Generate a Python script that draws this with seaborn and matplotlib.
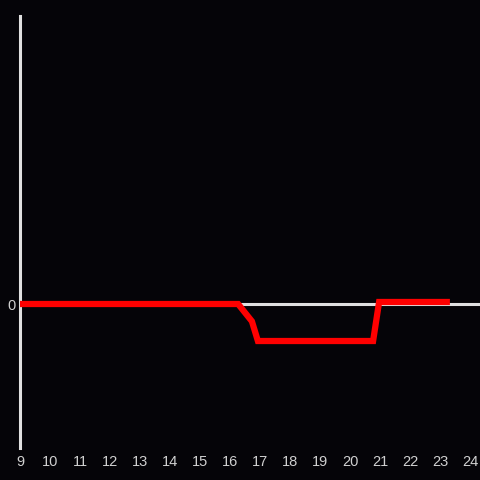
import matplotlib
matplotlib.use("Agg")
import matplotlib.pyplot as plt
import seaborn as sns
import pandas as pd

x_vals = [9.0, 16.27, 16.73, 16.93, 20.77, 20.97, 23.33]
y_vals = [0.0, 0.0, -12.0, -25.7, -25.7, 1.4, 1.4]
x_ticks = list(range(9, 25))

sns.set_style("dark")
plt.rcParams['font.family'] = ['Liberation Sans', 'DejaVu Sans']

bg = '#050408'
fig = plt.figure(figsize=(4.8, 4.8), dpi=100, facecolor=bg)
ax = fig.add_axes([20/480, 1 - 448/480, 1 - 20/480, (448 - 16)/480])
ax.set_facecolor(bg)

ax.axhline(0, color='#e0e0e0', lw=2.2, zorder=1)
df = pd.DataFrame({'x': x_vals, 'y': y_vals})
sns.lineplot(data=df, x='x', y='y', ax=ax, color='#ff0000', lw=4.5, zorder=3,
             solid_joinstyle='miter', solid_capstyle='butt', sort=False)

ax.set_xlim(9, 9 + 460/30)
ax.set_ylim(-100, 200)
ax.set_xticks(x_ticks)
ax.set_xticklabels([str(t) for t in x_ticks])
ax.set_yticks([0])
ax.set_yticklabels(['0'])
ax.tick_params(axis='both', length=0, colors='#d0d0d0', labelsize=10.5, pad=5)
ax.tick_params(axis='y', pad=3)
ax.grid(False)
ax.set_xlabel('')
ax.set_ylabel('')
for s in ['top', 'right', 'bottom']:
    ax.spines[s].set_visible(False)
ax.spines['left'].set_visible(True)
ax.spines['left'].set_color('#e0e0e0')
ax.spines['left'].set_linewidth(2.2)

fig.savefig('out.png', dpi=100, facecolor=bg)
